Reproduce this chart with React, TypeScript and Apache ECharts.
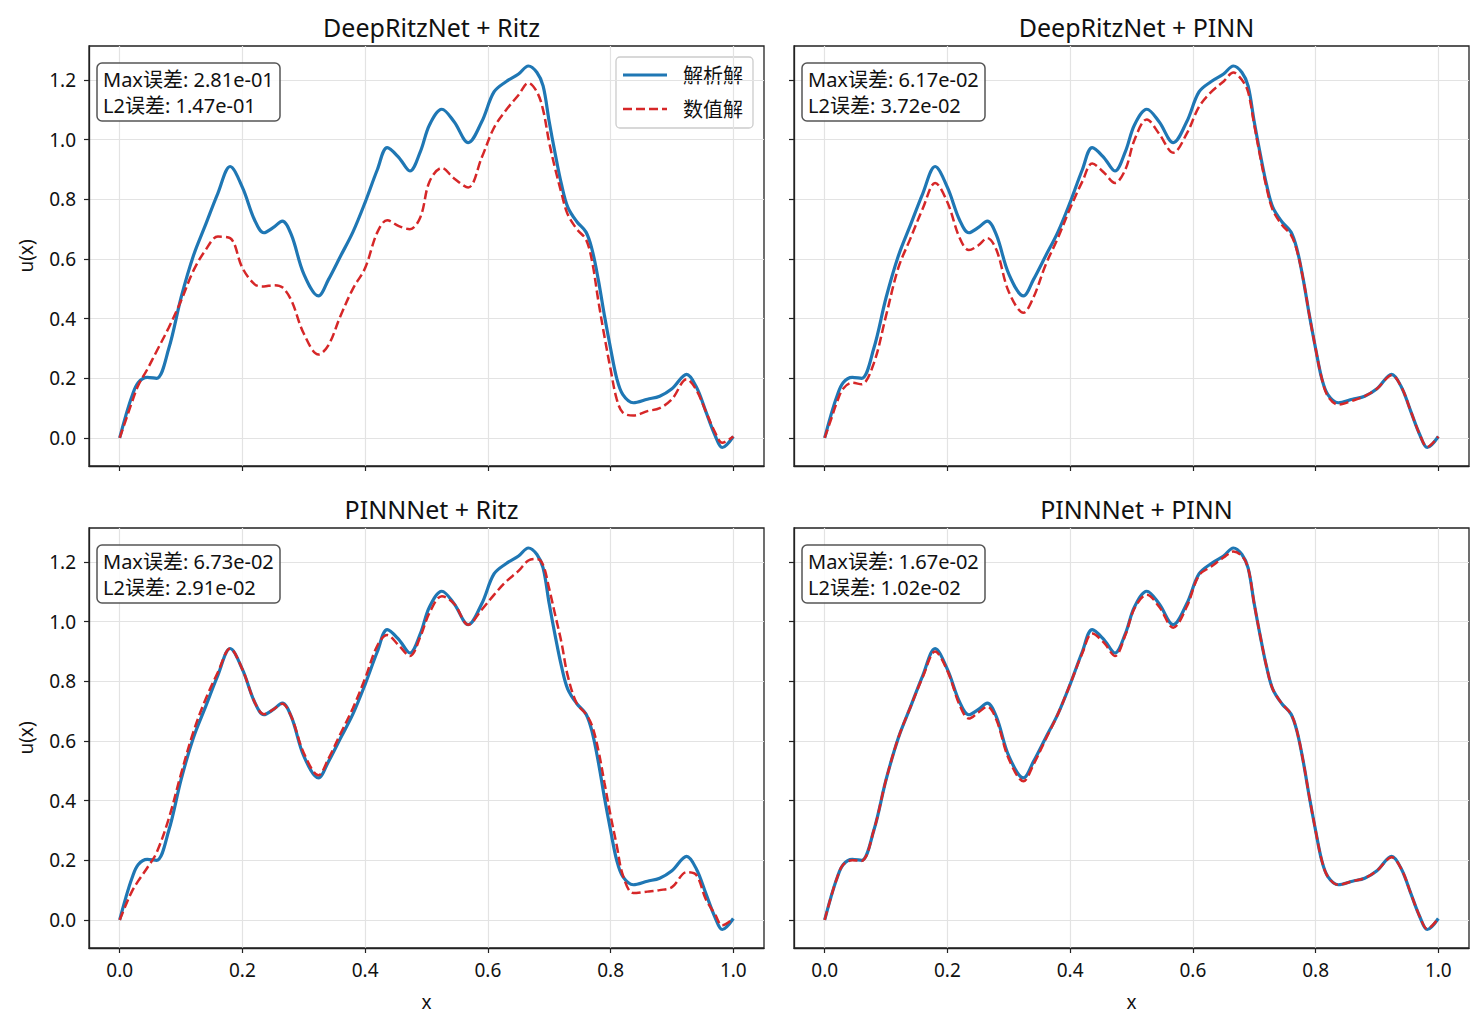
import React, { useEffect, useRef } from "react";
import * as echarts from "echarts";

const X = [0, 0.01, 0.02, 0.03, 0.045, 0.06, 0.08, 0.1, 0.12, 0.14, 0.16, 0.18, 0.2, 0.22, 0.235, 0.25, 0.265, 0.28, 0.3, 0.324, 0.34, 0.36, 0.38, 0.4, 0.42, 0.436, 0.455, 0.473, 0.49, 0.505, 0.525, 0.545, 0.568, 0.59, 0.61, 0.63, 0.65, 0.666, 0.68, 0.69, 0.7, 0.71, 0.72, 0.73, 0.745, 0.76, 0.77, 0.78, 0.79, 0.8, 0.81, 0.82, 0.837, 0.86, 0.88, 0.9, 0.924, 0.94, 0.955, 0.97, 0.982, 1.0];

const ANALYTIC = [0, 0.075, 0.14, 0.185, 0.203, 0.2, 0.3, 0.47, 0.61, 0.715, 0.82, 0.91, 0.84, 0.73, 0.688, 0.705, 0.727, 0.68, 0.55, 0.476, 0.53, 0.61, 0.69, 0.79, 0.9, 0.973, 0.94, 0.895, 0.96, 1.05, 1.102, 1.06, 0.99, 1.06, 1.16, 1.195, 1.22, 1.247, 1.225, 1.18, 1.06, 0.95, 0.85, 0.775, 0.725, 0.69, 0.63, 0.53, 0.41, 0.3, 0.2, 0.145, 0.118, 0.13, 0.14, 0.165, 0.213, 0.17, 0.09, 0.01, -0.032, 0.005];

const NUM_RITZNET_RITZ = [0, 0.06, 0.12, 0.175, 0.23, 0.29, 0.37, 0.46, 0.56, 0.63, 0.675, 0.67, 0.57, 0.515, 0.508, 0.512, 0.505, 0.46, 0.35, 0.28, 0.31, 0.41, 0.5, 0.57, 0.69, 0.73, 0.71, 0.7, 0.74, 0.86, 0.905, 0.87, 0.84, 0.94, 1.04, 1.1, 1.15, 1.19, 1.16, 1.1, 0.99, 0.9, 0.82, 0.75, 0.7, 0.665, 0.59, 0.46, 0.34, 0.23, 0.13, 0.085, 0.075, 0.09, 0.1, 0.13, 0.197, 0.16, 0.09, 0.02, -0.016, 0.005];

const NUM_RITZNET_PINN = [0, 0.06, 0.12, 0.165, 0.185, 0.18, 0.25, 0.41, 0.57, 0.67, 0.77, 0.855, 0.79, 0.67, 0.63, 0.645, 0.67, 0.63, 0.49, 0.42, 0.47, 0.58, 0.67, 0.77, 0.86, 0.92, 0.89, 0.855, 0.9, 1.0, 1.068, 1.02, 0.956, 1.02, 1.11, 1.16, 1.195, 1.225, 1.2, 1.16, 1.05, 0.94, 0.84, 0.765, 0.715, 0.68, 0.625, 0.53, 0.41, 0.3, 0.2, 0.14, 0.112, 0.125, 0.14, 0.165, 0.21, 0.17, 0.09, 0.01, -0.03, 0.005];

const NUM_PINNNET_RITZ = [0, 0.05, 0.096, 0.13, 0.175, 0.225, 0.34, 0.49, 0.63, 0.74, 0.83, 0.91, 0.84, 0.73, 0.69, 0.705, 0.725, 0.68, 0.56, 0.485, 0.54, 0.625, 0.71, 0.81, 0.92, 0.955, 0.92, 0.885, 0.95, 1.03, 1.085, 1.06, 0.99, 1.04, 1.09, 1.135, 1.17, 1.205, 1.21, 1.19, 1.11, 1.02, 0.93, 0.82, 0.725, 0.69, 0.65, 0.57, 0.46, 0.35, 0.25, 0.15, 0.09, 0.095, 0.1, 0.11, 0.16, 0.15, 0.07, 0.02, -0.018, 0.005];

const NUM_PINNNET_PINN = [0, 0.075, 0.14, 0.185, 0.2, 0.198, 0.3, 0.47, 0.61, 0.715, 0.815, 0.9, 0.835, 0.72, 0.675, 0.695, 0.715, 0.67, 0.54, 0.465, 0.52, 0.605, 0.69, 0.79, 0.895, 0.96, 0.93, 0.885, 0.955, 1.045, 1.09, 1.05, 0.98, 1.05, 1.155, 1.185, 1.215, 1.235, 1.22, 1.18, 1.06, 0.95, 0.85, 0.775, 0.725, 0.69, 0.63, 0.53, 0.41, 0.3, 0.2, 0.145, 0.118, 0.13, 0.14, 0.165, 0.21, 0.17, 0.09, 0.01, -0.03, 0.005];

const PANEL_TITLES = ["DeepRitzNet + Ritz", "DeepRitzNet + PINN", "PINNNet + Ritz", "PINNNet + PINN"];
const MAX_ERR = ["2.81e-01", "6.17e-02", "6.73e-02", "1.67e-02"];
const L2_ERR = ["1.47e-01", "3.72e-02", "2.91e-02", "1.02e-02"];
const NUMERIC = [NUM_RITZNET_RITZ, NUM_RITZNET_PINN, NUM_PINNNET_RITZ, NUM_PINNNET_PINN];
const X_TICKS = [0, 0.2, 0.4, 0.6, 0.8, 1.0];
const Y_TICKS = [0, 0.2, 0.4, 0.6, 0.8, 1.0, 1.2];
const SERIES_NAMES = ["解析解", "数值解"];

const FONT = "'Noto Sans', 'Noto Sans CJK SC', sans-serif";
const BLUE = "#1f77b4";
const RED = "#d62728";

export default function App() {
  const ref = useRef<HTMLDivElement>(null);
  useEffect(() => {
    if (!ref.current) return;
    const chart = echarts.init(ref.current, undefined, { renderer: "svg" });
    const lefts = [89, 794, 89, 794];
    const tops = [46, 46, 528, 528];
    const W = 675;
    const H = 420;
    const grids = lefts.map((l, i) => ({
      left: l,
      top: tops[i],
      width: W,
      height: H,
      show: true,
      borderColor: "#222",
      borderWidth: 1.3,
      backgroundColor: "#fff",
    }));
    const xAxes = lefts.map((_, i) => ({
      type: "value",
      gridIndex: i,
      min: -0.05,
      max: 1.05,
      name: i >= 2 ? "x" : "",
      nameLocation: "middle",
      nameGap: 44,
      nameTextStyle: { fontSize: 19, color: "#111", fontFamily: FONT },
      axisLine: { show: true, onZero: false, lineStyle: { color: "#222", width: 1.3 } },
      axisTick: { show: true, length: 5, customValues: X_TICKS, lineStyle: { color: "#222", width: 1.2 } },
      axisLabel: {
        show: i >= 2,
        customValues: X_TICKS,
        margin: 12,
        fontSize: 19,
        color: "#111",
        fontFamily: FONT,
        formatter: (v: number) => v.toFixed(1),
      },
      splitLine: { show: true, lineStyle: { color: "#e3e3e3", width: 1.2 } },
    }));
    const yAxes = lefts.map((_, i) => ({
      type: "value",
      gridIndex: i,
      min: -0.094,
      max: 1.314,
      name: i % 2 === 0 ? "u(x)" : "",
      nameLocation: "middle",
      nameGap: 54,
      nameTextStyle: { fontSize: 19, color: "#111", fontFamily: FONT },
      axisLine: { show: true, onZero: false, lineStyle: { color: "#222", width: 1.3 } },
      axisTick: { show: true, length: 5, customValues: Y_TICKS, lineStyle: { color: "#222", width: 1.2 } },
      axisLabel: {
        show: i % 2 === 0,
        customValues: Y_TICKS,
        margin: 13,
        fontSize: 19,
        color: "#111",
        fontFamily: FONT,
        formatter: (v: number) => v.toFixed(1),
      },
      splitLine: { show: true, lineStyle: { color: "#e3e3e3", width: 1.2 } },
    }));
    const series: any[] = [];
    lefts.forEach((_, i) => {
      series.push({
        type: "line",
        name: SERIES_NAMES[0],
        xAxisIndex: i,
        yAxisIndex: i,
        data: X.map((x, k) => [x, ANALYTIC[k]]),
        showSymbol: false,
        symbol: "none",
        smooth: 0.35,
        lineStyle: { color: BLUE, width: 3.2 },
        itemStyle: { color: BLUE },
        z: 3,
      });
      series.push({
        type: "line",
        name: SERIES_NAMES[1],
        xAxisIndex: i,
        yAxisIndex: i,
        data: X.map((x, k) => [x, NUMERIC[i][k]]),
        showSymbol: false,
        symbol: "none",
        smooth: 0.35,
        lineStyle: { color: RED, width: 2.5, type: [9, 4] },
        itemStyle: { color: RED },
        z: 4,
      });
    });
    const titles: any[] = [];
    lefts.forEach((l, i) => {
      titles.push({
        text: PANEL_TITLES[i],
        left: l + W / 2,
        textAlign: "center",
        top: tops[i] - 37,
        textStyle: { fontSize: 25, fontWeight: "normal", color: "#111", fontFamily: FONT },
      });
      titles.push({
        text: `Max误差: ${MAX_ERR[i]}\nL2误差: ${L2_ERR[i]}`,
        left: l + 8,
        top: tops[i] + 17,
        padding: [3, 6, 3, 6],
        borderColor: "#555",
        borderWidth: 1.5,
        borderRadius: 5,
        backgroundColor: "rgba(255,255,255,0.85)",
        z: 10,
        textStyle: { fontSize: 20, lineHeight: 26, fontWeight: "normal", color: "#111", fontFamily: FONT },
      });
    });
    const legendGraphic = {
      type: "group",
      z: 20,
      children: [
        {
          type: "rect",
          shape: { x: 616, y: 57, width: 137, height: 71, r: 4 },
          style: { fill: "rgba(255,255,255,0.85)", stroke: "#cccccc", lineWidth: 1.3 },
        },
        {
          type: "line",
          shape: { x1: 623, y1: 75, x2: 667, y2: 75 },
          style: { stroke: BLUE, lineWidth: 3.2 },
        },
        {
          type: "line",
          shape: { x1: 623, y1: 109, x2: 667, y2: 109 },
          style: { stroke: RED, lineWidth: 2.5, lineDash: [9, 4] },
        },
        {
          type: "text",
          x: 683,
          y: 75,
          style: { text: SERIES_NAMES[0], font: `20px ${FONT}`, fill: "#111", verticalAlign: "middle" },
        },
        {
          type: "text",
          x: 683,
          y: 109,
          style: { text: SERIES_NAMES[1], font: `20px ${FONT}`, fill: "#111", verticalAlign: "middle" },
        },
      ],
    };
    chart.setOption({
      animation: false,
      backgroundColor: "#fff",
      title: titles,
      graphic: [legendGraphic],
      grid: grids,
      xAxis: xAxes,
      yAxis: yAxes,
      series,
    });
    return () => chart.dispose();
  }, []);
  return (
    <div
      ref={ref}
      style={{ position: "absolute", left: 0, top: 0, width: 1483, height: 1031 }}
    />
  );
}
